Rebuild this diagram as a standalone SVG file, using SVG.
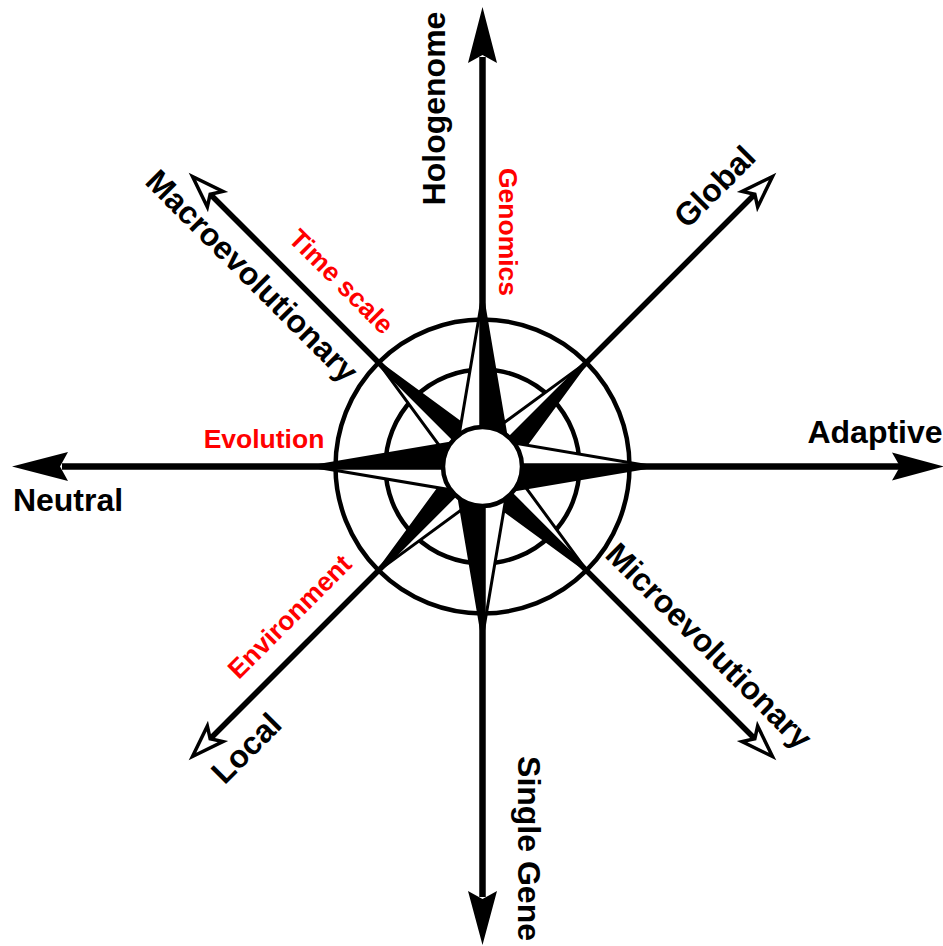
<svg xmlns="http://www.w3.org/2000/svg" width="943" height="946" viewBox="0 0 943 946">
<style>
.ring{fill:none;stroke:#000;stroke-width:4.5}
.shaft{stroke:#000;stroke-width:6.5;fill:none}
.dshaft{stroke:#000;stroke-width:5.5;fill:none}
.wh{fill:#fff;stroke:#000;stroke-width:3;stroke-linejoin:miter}
.bk{fill:#000;stroke:#000;stroke-width:3;stroke-linejoin:miter}
.head{fill:#000;stroke:none}
.ohead{fill:#fff;stroke:#000;stroke-width:3.5;stroke-linejoin:miter;stroke-miterlimit:10}
.lbl{font-family:"Liberation Sans",Arial,sans-serif;font-weight:bold;font-size:32px;fill:#000;text-anchor:middle}
.red{font-family:"Liberation Sans",Arial,sans-serif;font-weight:bold;font-size:26.5px;fill:#ff0000;text-anchor:middle}
</style>
<defs>
<g id="cpt">
<polygon class="wh" points="0,0 0,-170 -24.6,-24.6"/>
<polygon class="bk" points="0,0 0,-170 24.6,-24.6"/>
</g>
<g id="dpt">
<polygon class="wh" points="0,0 0,-148 -19.7,-19.7"/>
<polygon class="bk" points="0,0 0,-148 19.7,-19.7"/>
</g>
<path id="oh" class="ohead" d="M0,0 L-32,-11 L-25,0 L-32,11 Z"/>
</defs>
<g id="compass">
<circle class="ring" cx="482.5" cy="466.5" r="147"/>
<circle class="ring" cx="482.5" cy="466.5" r="97"/>
<g id="star-diagonal">
<use href="#dpt" transform="translate(482.5,466.5) rotate(45)"/>
<use href="#dpt" transform="translate(482.5,466.5) rotate(135)"/>
<use href="#dpt" transform="translate(482.5,466.5) rotate(225)"/>
<use href="#dpt" transform="translate(482.5,466.5) rotate(315)"/>
</g>
<g id="star-cardinal">
<use href="#cpt" transform="translate(482.5,466.5)"/>
<use href="#cpt" transform="translate(482.5,466.5) rotate(90)"/>
<use href="#cpt" transform="translate(482.5,466.5) rotate(180)"/>
<use href="#cpt" transform="translate(482.5,466.5) rotate(270)"/>
</g>
</g>
<g id="connectors">
<line class="shaft" x1="482.5" y1="57" x2="482.5" y2="897"/>
<line class="shaft" x1="62" y1="466.5" x2="902" y2="466.5"/>
<line class="dshaft" x1="482.5" y1="466.5" x2="755" y2="194"/>
<line class="dshaft" x1="482.5" y1="466.5" x2="210" y2="194"/>
<line class="dshaft" x1="482.5" y1="466.5" x2="210" y2="739"/>
<line class="dshaft" x1="482.5" y1="466.5" x2="755" y2="739"/>
<path class="head" d="M482.5,7 L497,63 L482.5,55 L468,63 Z"/>
<path class="head" d="M482.5,945 L497,891 L482.5,899 L468,891 Z"/>
<path class="head" d="M12,466.5 L68,452 L60,466.5 L68,481 Z"/>
<path class="head" d="M944,466.5 L892,452.5 L900,466.5 L892,480.5 Z"/>
<use href="#oh" transform="translate(772.5,176.5) rotate(-45)"/>
<use href="#oh" transform="translate(192.5,176.5) rotate(-135)"/>
<use href="#oh" transform="translate(192.5,756.5) rotate(135)"/>
<use href="#oh" transform="translate(772.5,756.5) rotate(45)"/>
</g>
<g id="center">
<circle cx="482.5" cy="466.5" r="39.5" fill="#fff" stroke="#000" stroke-width="4.5"/>
</g>
<g id="node-hologenome"><text class="lbl" transform="translate(445,108.5) rotate(-90)">Hologenome</text></g>
<g id="node-singlegene"><text class="lbl" transform="translate(518,848.5) rotate(90)">Single Gene</text></g>
<g id="node-neutral"><text class="lbl" x="68" y="511">Neutral</text></g>
<g id="node-adaptive"><text class="lbl" x="875" y="443">Adaptive</text></g>
<g id="node-macro"><text class="lbl" transform="translate(244.3,283.7) rotate(45)">Macroevolutionary</text></g>
<g id="node-micro"><text class="lbl" transform="translate(701.3,653.7) rotate(45)">Microevolutionary</text></g>
<g id="node-global"><text class="lbl" transform="translate(722.4,194.4) rotate(-45)">Global</text></g>
<g id="node-local"><text class="lbl" transform="translate(254,756) rotate(-45)">Local</text></g>
<g id="node-genomics"><text class="red" transform="translate(499,232) rotate(90)">Genomics</text></g>
<g id="node-evolution"><text class="red" x="264" y="448">Evolution</text></g>
<g id="node-timescale"><text class="red" transform="translate(335,288) rotate(45)">Time scale</text></g>
<g id="node-environment"><text class="red" transform="translate(296,623) rotate(-45)">Environment</text></g>
</svg>
